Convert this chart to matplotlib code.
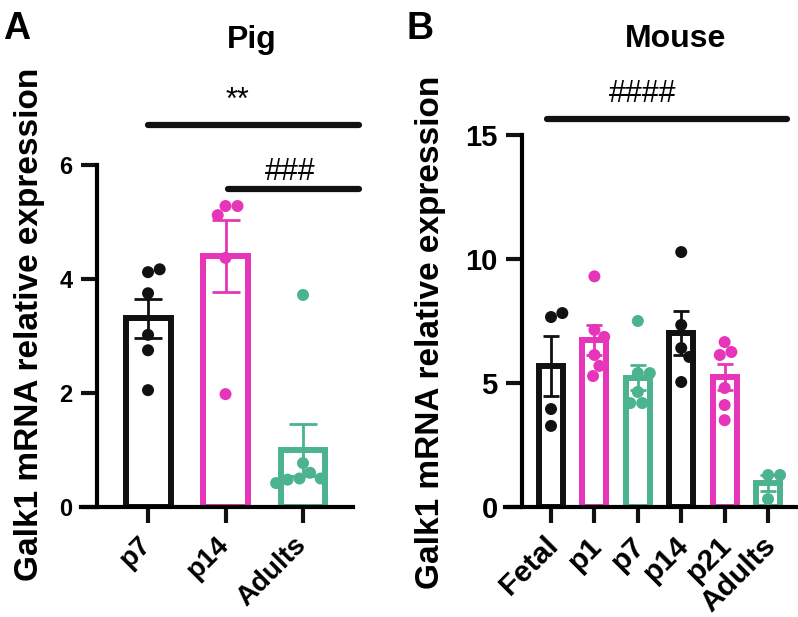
import numpy as np
import matplotlib
matplotlib.use('Agg')
import matplotlib.pyplot as plt
from matplotlib.transforms import ScaledTranslation

plt.rcParams['font.family'] = ['Liberation Sans', 'DejaVu Sans']

BLACK = '#111111'
PINK = '#E735B9'
GREEN = '#4BB38E'

# Pig data (Galk1 relative expression)
pig_groups = ['p7', 'p14', 'Adults']
pig_colors = [BLACK, PINK, GREEN]
pig_p7 = [4.12, 4.17, 3.75, 3.02, 2.75, 2.05]
pig_p14 = [5.28, 5.28, 5.12, 4.37, 1.98]
pig_adults = [3.72, 0.77, 0.60, 0.50, 0.48, 0.50, 0.42]
pig_values = [pig_p7, pig_p14, pig_adults]

# Mouse data
mouse_groups = ['Fetal', 'p1', 'p7', 'p14', 'p21', 'Adults']
mouse_colors = [BLACK, PINK, GREEN, BLACK, PINK, GREEN]
mouse_fetal = [7.66, 7.82, 3.95, 3.27]
mouse_p1 = [9.30, 7.14, 6.86, 6.13, 5.69, 5.28]
mouse_p7 = [7.50, 5.40, 5.40, 4.64, 4.19, 4.19]
mouse_p14 = [10.28, 7.34, 6.41, 6.05, 5.04]
mouse_p21 = [6.65, 6.25, 6.13, 4.80, 4.11, 3.50]
mouse_adults = [1.29, 1.29, 0.32]
mouse_values = [mouse_fetal, mouse_p1, mouse_p7, mouse_p14, mouse_p21, mouse_adults]

W, H = 798, 617
fig = plt.figure(figsize=(W / 100, H / 100), dpi=100)


def px_box(left, right, top, bottom):
    return [left / W, 1 - bottom / H, (right - left) / W, (bottom - top) / H]


def swarm(ax, x0, vals, d):
    # simple beeswarm in pixel space, returns data x positions
    pts = ax.transData.transform([(x0, v) for v in vals])
    x0px = pts[0][0]
    placed = []
    out = []
    for px, py in pts:
        cands = [0.0]
        for qx, qy in placed:
            dy = py - qy
            if abs(dy) < d:
                dx = np.sqrt(d * d - dy * dy)
                cands += [qx + dx, qx - dx]
        cands.sort(key=abs)
        c = 0.0
        for c in cands:
            if all((c - qx) ** 2 + (py - qy) ** 2 >= d * d - 1e-6 for qx, qy in placed):
                break
        placed.append((c, py))
        out.append(ax.transData.inverted().transform((x0px + c, py))[0])
    return out


def draw_panel(ax, groups, values, colors, xlim, ylim, yticks, spine_x,
               width, capsize, fs, xfs, dot, label_dx):
    ax.set_xlim(*xlim)
    ax.set_ylim(*ylim)
    x = np.arange(len(groups))
    means = [np.mean(v) for v in values]
    sems = [np.std(v, ddof=1) / np.sqrt(len(v)) for v in values]
    ax.bar(x, means, width=width, color='white', edgecolor=colors,
           linewidth=4.3, zorder=2)
    for i in range(len(groups)):
        ax.errorbar(x[i], means[i], yerr=sems[i], fmt='none', ecolor=colors[i],
                    elinewidth=2, capsize=capsize, capthick=2, zorder=3)
        xs = swarm(ax, x[i], values[i], dot)
        ax.scatter(xs, values[i], s=(dot * 0.72) ** 2, color=colors[i],
                   edgecolor='none', zorder=4, clip_on=False)
    for s in ['top', 'right']:
        ax.spines[s].set_visible(False)
    ax.spines['left'].set_position(('data', spine_x))
    ax.spines['left'].set_bounds(ylim[0], yticks[-1])
    ax.spines['left'].set_linewidth(3)
    ax.spines['bottom'].set_linewidth(3)
    ax.set_yticks(yticks)
    ax.set_xticks(x)
    ax.set_xticklabels(groups)
    ax.tick_params(axis='both', width=3, length=11.5, color=BLACK)
    ax.tick_params(axis='y', pad=6, labelsize=fs)
    ax.tick_params(axis='x', pad=13, labelsize=xfs)
    for lab in ax.get_yticklabels():
        lab.set_fontweight('bold')
    offset = ScaledTranslation(label_dx / 100, 0, fig.dpi_scale_trans)
    for lab in ax.get_xticklabels():
        lab.set_fontweight('bold')
        lab.set_rotation(45)
        lab.set_ha('right')
        lab.set_va('center')
        lab.set_rotation_mode('anchor')
        lab.set_transform(lab.get_transform() + offset)


# Panel A: pig
axA = fig.add_axes(px_box(81, 353, 165, 507))
draw_panel(axA, pig_groups, pig_values, pig_colors,
           xlim=(-0.865, 2.645), ylim=(0, 6), yticks=[0, 2, 4, 6],
           spine_x=-0.66, width=0.58, capsize=10, fs=17, xfs=20, dot=12,
           label_dx=-1)
axA.plot([0, 2.72], [6.70, 6.70], color=BLACK, lw=4.5, solid_capstyle='round', clip_on=False)
axA.plot([1.03, 2.72], [5.58, 5.58], color=BLACK, lw=4.5, solid_capstyle='round', clip_on=False)

# Panel B: mouse
axB = fig.add_axes(px_box(505, 798, 135, 507))
draw_panel(axB, mouse_groups, mouse_values, mouse_colors,
           xlim=(-1.06, 5.69), ylim=(0, 15), yticks=[0, 5, 10, 15],
           spine_x=-0.668, width=0.55, capsize=6, fs=21, xfs=21.5, dot=12,
           label_dx=3)
axB.plot([-0.09, 5.44], [15.65, 15.65], color=BLACK, lw=4.5, solid_capstyle='round', clip_on=False)


def ftext(x, y, s, **kw):
    fig.text(x / W, 1 - y / H, s, **kw)


ftext(17, 39, 'A', fontsize=27, fontweight='bold', ha='center', va='baseline')
ftext(420, 39, 'B', fontsize=27, fontweight='bold', ha='center', va='baseline')
ftext(252, 48, 'Pig', fontsize=23, fontweight='bold', ha='center', va='baseline')
ftext(676, 47, 'Mouse', fontsize=23, fontweight='bold', ha='center', va='baseline')
ftext(30, 324, 'Galk1 mRNA relative expression', fontsize=24, fontweight='bold',
      rotation=90, ha='center', va='center')
ftext(430, 332, 'Galk1 mRNA relative expression', fontsize=24, fontweight='bold',
      rotation=90, ha='center', va='center')
ftext(237, 109, '**', fontsize=22, ha='center', va='baseline')
ftext(290, 180, '###', fontsize=22, ha='center', va='baseline')
ftext(643, 102, '####', fontsize=22, ha='center', va='baseline')

fig.savefig('out.png', dpi=100)
